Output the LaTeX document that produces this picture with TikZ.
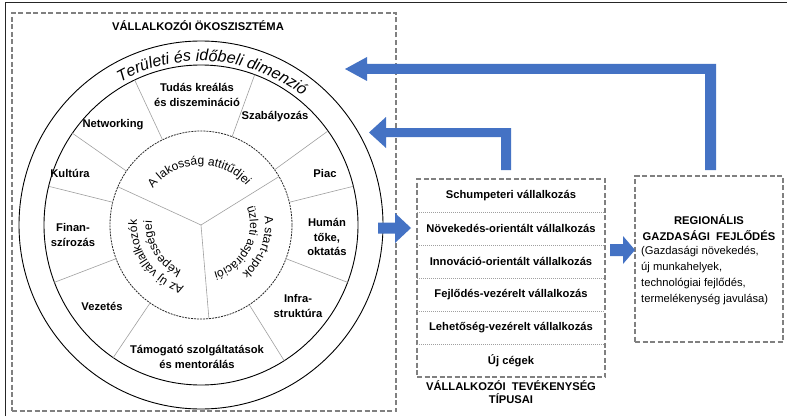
\documentclass[tikz,border=0pt]{standalone}
\usepackage{fontspec}
\setmainfont{Liberation Sans}
\usetikzlibrary{decorations.text,calc}
\definecolor{arrowblue}{HTML}{4472C4}
\definecolor{boxgray}{HTML}{808080}
\definecolor{divgray}{HTML}{A0A0A0}
\tikzset{
  ringlbl/.style={font=\fontsize{11.2}{14.5}\selectfont\bfseries, align=center, inner sep=0pt},
  rowlbl/.style={font=\fontsize{11.2}{13}\selectfont\bfseries, align=center, inner sep=0pt},
  dashbox/.style={draw=boxgray, line width=1.1pt, dash pattern=on 5pt off 2.5pt, inner sep=0pt},
  sepline/.style={draw=divgray, line width=0.7pt, dash pattern=on 1pt off 1pt},
  divline/.style={draw=divgray, line width=0.6pt},
  ringline/.style={draw=black, line width=0.9pt},
  bluearrow/.style={fill=arrowblue, draw=none},
}
\newcommand{\myarctext}[5]{%
  \path[decorate, decoration={text along path, text={|#4|#5}, text align=center}]
    ($(C)+(#1+#3:#2pt)$) arc[start angle=#1+#3, end angle=#1-#3, radius=#2pt];
}
\begin{document}
\begin{tikzpicture}[x=1pt,y=1pt]
\useasboundingbox (0,0) rectangle (787,416);
\fill[white] (0,0) rectangle (787,416);
% outer frame
\draw[line width=1pt, black!85] (5,0) -- (5,413) -- (787,413);

% boxes
\node[dashbox, minimum width=384pt, minimum height=398pt] (eco) at (204,204) {};
\node[dashbox, minimum width=188pt, minimum height=198pt] (mid) at (511,138) {};
\node[dashbox, minimum width=148pt, minimum height=166pt] (reg) at (709,157) {};

\node[ringlbl] (ecotitle) at (198,390) {VÁLLALKOZÓI ÖKOSZISZTÉMA};

% circles
\coordinate (C) at (201,191);
\draw[ringline] (C) ellipse[x radius=182pt, y radius=184pt];
\draw[ringline] (C) ellipse[x radius=157pt, y radius=160pt];
\draw[black!85, line width=0.8pt, dash pattern=on 2pt off 1pt] (C) ellipse[x radius=91pt, y radius=94pt];

% ring dividers
\foreach \a in {115,70,36,14,-21,-58,-124,-159,166,145}
  \draw[divline] ($(C)+(\a:91pt and 94pt)$) -- ($(C)+(\a:157pt and 160pt)$);
% pie dividers
\foreach \a in {156,31,-85}
  \draw[divline] (C) -- ($(C)+(\a:91pt and 94pt)$);

% outer band text
\myarctext{85.6}{164}{60}{\fontsize{16}{18}\selectfont\itshape}{Területi és időbeli dimenzió}

% inner sector texts
\myarctext{92}{60}{80}{\fontsize{12}{14}\selectfont}{A lakosság attitűdjei}
\myarctext{-21}{64}{80}{\fontsize{12}{14}\selectfont}{A start-upok}
\myarctext{-27}{49}{85}{\fontsize{12}{14}\selectfont}{üzleti aspirációi}
\myarctext{215}{64}{80}{\fontsize{12}{14}\selectfont}{Az új vállalkozók}
\myarctext{211}{49}{85}{\fontsize{12}{14}\selectfont}{képességei}

% ring labels
\node[ringlbl] (tudas) at (197,321) {Tudás kreálás\\és diszemináció};
\node[ringlbl] (netw) at (113,291) {Networking};
\node[ringlbl] (szab) at (275,299) {Szabályozás};
\node[ringlbl] (kult) at (70,243) {Kultúra};
\node[ringlbl] (piac) at (325,243) {Piac};
\node[ringlbl] (finan) at (73,181) {Finan-\\szírozás};
\node[ringlbl] (human) at (327,179) {Humán\\tőke,\\oktatás};
\node[ringlbl] (vez) at (102,110) {Vezetés};
\node[ringlbl] (infra) at (298,110) {Infra-\\struktúra};
\node[ringlbl] (tamog) at (197,59) {Támogató szolgáltatások\\és mentorálás};

% middle box rows
\foreach \k in {1,...,5}
  \draw[sepline] (417,237-33*\k) -- (605,237-33*\k);
\foreach \t [count=\i] in {Schumpeteri vállalkozás,Növekedés-orientált vállalkozás,Innováció-orientált vállalkozás,Fejlődés-vezérelt vállalkozás,Lehetőség-vezérelt vállalkozás,Új cégek}
  \node[rowlbl] (row\i) at (511,253.5-33*\i) {\t};
\node[rowlbl] (midcap) at (511,23.5) {VÁLLALKOZÓI\ \ TEVÉKENYSÉG\\TÍPUSAI};

% right box text
\node[ringlbl, font=\fontsize{11.2}{16}\selectfont\bfseries] (regtitle) at (709,188) {REGIONÁLIS\\GAZDASÁGI\ \ FEJLŐDÉS};
\node[font=\fontsize{11.2}{16}\selectfont, align=left, anchor=west, inner sep=0pt] (regbody) at (641,140)
  {(Gazdasági növekedés,\\új munkahelyek,\\technológiai fejlődés,\\termelékenység javulása)};

% block arrows
\fill[bluearrow] (378,193.5) -- (395,193.5) -- (395,203) -- (411,188) -- (395,173) -- (395,182.5) -- (378,182.5) -- cycle;
\fill[bluearrow] (610,172) -- (623,172) -- (623,180) -- (635,166) -- (623,152) -- (623,160) -- (610,160) -- cycle;
\fill[bluearrow] (705,246) -- (716,246) -- (716,352) -- (367,352) -- (367,359) -- (345,347) -- (367,335) -- (367,342) -- (705,342) -- cycle;
\fill[bluearrow] (501,246) -- (511,246) -- (511,288) -- (386,288) -- (386,299) -- (369,283.5) -- (386,268) -- (386,279) -- (501,279) -- cycle;
\end{tikzpicture}
\end{document}
